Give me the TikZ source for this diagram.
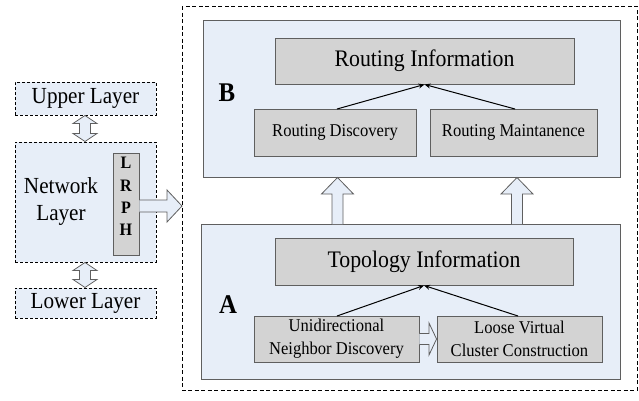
\documentclass[tikz,border=0pt]{standalone}
\usepackage{fontspec}
\setmainfont{Liberation Serif}[FakeStretch=0.92]
\usetikzlibrary{calc,arrows.meta}
\definecolor{lb}{RGB}{231,238,248}
\definecolor{gb}{RGB}{211,211,211}
\definecolor{bd}{RGB}{95,95,95}
\tikzset{
  panel/.style={draw=bd,fill=lb,line width=0.9pt},
  gbox/.style={draw=bd,fill=gb,line width=0.9pt},
  dbox/.style={draw=black,fill=lb,densely dashed,line width=1pt},
  blk/.style={draw=bd,fill=lb,line width=0.8pt,line join=miter},
  conn/.style={-{Stealth[length=6pt,width=5pt]},line width=1pt},
  big/.style={font=\fontsize{23.7}{26}\selectfont},
  mid/.style={font=\fontsize{18}{23}\selectfont,align=center},
  lay/.style={font=\fontsize{23}{27}\selectfont,align=center},
  lett/.style={font=\fontsize{27}{28}\selectfont\bfseries}
}
\begin{document}
\begin{tikzpicture}[x=1pt,y=-1pt]
\useasboundingbox (0,0) rectangle (639,400);
% outer dashed frame
\draw[black,dashed,line width=1pt,dash pattern=on 4pt off 2.5pt] (182,6) rectangle (637,390);
% panel B
\draw[panel] (203,20) rectangle (620,177);
\node[gbox,big,minimum width=299pt,minimum height=46pt] (RI) at (424.5,61) {Routing Information};
\node[gbox,mid,minimum width=162pt,minimum height=47pt] (RD) at (335,132.5) {Routing Discovery};
\node[gbox,mid,minimum width=167pt,minimum height=47pt] (RM) at (513.5,132.5) {Routing Maintanence};
\node[lett] (LB) at (227,93) {B};
\draw[conn] (337,109) -- (RI.south);
\draw[conn] (515,109) -- (RI.south);
% panel A
\draw[panel] (201,224) rectangle (620,379);
\node[gbox,big,minimum width=298pt,minimum height=47pt] (TI) at (424,261.5) {Topology Information};
\node[gbox,mid,minimum width=165pt,minimum height=46pt] (UND) at (336.5,339) {Unidirectional\\Neighbor Discovery};
\node[gbox,mid,minimum width=165pt,minimum height=46pt] (LVC) at (519.5,339) {Loose Virtual\\Cluster Construction};
\node[lett] (LA) at (228,305) {A};
\draw[conn] (337,316) -- (TI.south);
\draw[conn] (518,316) -- (TI.south);
% open arrow between UND and LVC
\draw[blk] (UND.east |- 0,333.5) -- (429,333.5) -- (429,323) -- (LVC.west) -- (429,355) -- (429,344.5) -- (UND.east |- 0,344.5);
% up arrows A -> B
\foreach \cx in {337.5,517} {
  \draw[blk] (\cx-5.5,224) -- (\cx-5.5,194) -- (\cx-16,194) -- (\cx,177.5) -- (\cx+16,194) -- (\cx+5.5,194) -- (\cx+5.5,224);
}
% left stack
\node[dbox,lay,minimum width=141pt,minimum height=33pt] (UP) at (85.5,98.5) {Upper Layer};
\node[dbox,minimum width=141pt,minimum height=120pt] (NET) at (85.5,202) {};
\node[lay] (NETT) at (61,201) {Network\\Layer};
\node[gbox,minimum width=26pt,minimum height=102pt] (LRPH) at (126,204) {};
\node[font=\fontsize{17.5}{22.3}\selectfont\bfseries,align=center] (LRPHT) at (126,196.5) {L\\R\\P\\H};
\node[dbox,lay,minimum width=141pt,minimum height=30pt] (LOW) at (85.5,303) {Lower Layer};
% double arrows
\foreach \ya/\yb in {115.5/141.5,262.5/287.5} {
  \draw[blk] (85,\ya) -- (97,\ya+8) -- (90.5,\ya+8) -- (90.5,\yb-8) -- (97,\yb-8) -- (85,\yb) -- (73,\yb-8) -- (79.5,\yb-8) -- (79.5,\ya+8) -- (73,\ya+8) -- cycle;
}
% right arrow from LRPH
\draw[blk] (LRPH.east |- 0,200) -- (167,200) -- (167,190) -- (182,206) -- (167,222) -- (167,212) -- (LRPH.east |- 0,212);
\end{tikzpicture}
\end{document}
